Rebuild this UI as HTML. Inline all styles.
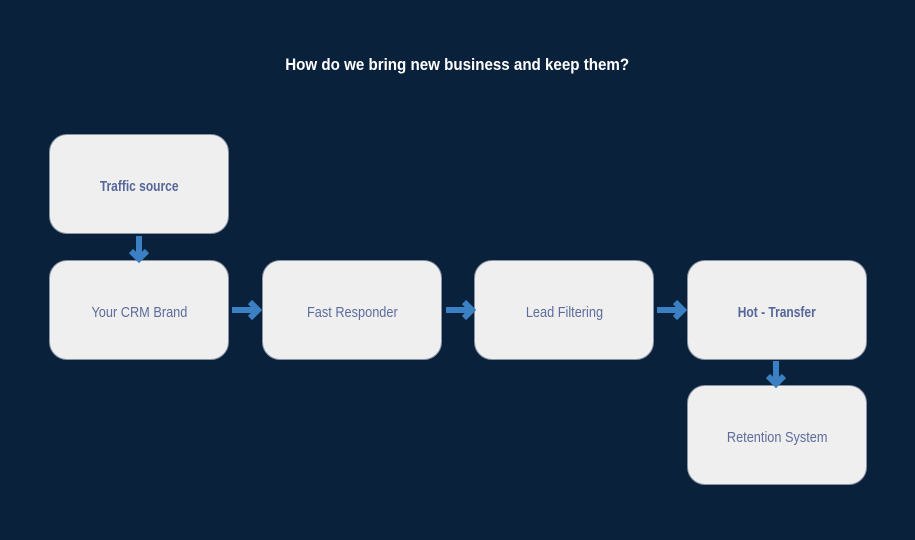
<!DOCTYPE html>
<html><head><meta charset="utf-8"><style>
body{margin:0;width:915px;height:540px;background:#0a213b;position:relative;overflow:hidden;font-family:"Liberation Sans Narrow","Liberation Sans",sans-serif}
.t{position:absolute;left:0;width:915px;top:55px;text-align:center;color:#fff;font-size:17px;font-weight:bold}
.t span{display:inline-block;transform:scaleX(.89)}
.b{position:absolute;width:180px;height:100px;background:#efefef;border:1px solid #8a93a3;border-radius:18px;box-sizing:border-box;display:flex;align-items:center;justify-content:center;color:#5d6c9c;font-size:15px;padding-top:4px}
.b span{display:inline-block;transform:scaleX(.85)}
.bold{font-weight:bold;color:#56669a}
.bold span{transform:scaleX(.8)}
svg{position:absolute;left:0;top:0}
</style></head><body>
<div class="t"><span>How do we bring new business and keep them?</span></div>
<div class="b bold" style="left:49px;top:134px"><span>Traffic source</span></div>
<div class="b" style="left:49px;top:260px"><span>Your CRM Brand</span></div>
<div class="b" style="left:262px;top:260px"><span>Fast Responder</span></div>
<div class="b" style="left:474px;top:260px"><span>Lead Filtering</span></div>
<div class="b bold" style="left:687px;top:260px"><span>Hot - Transfer</span></div>
<div class="b" style="left:687px;top:385px"><span>Retention System</span></div>
<svg width="915" height="540">
<g stroke="#3b80c2" stroke-width="6" fill="none">
<path d="M232 310H256M250 302L258 310L250 318"/>
<path d="M446 310H470M464 302L472 310L464 318"/>
<path d="M657 310H681M675 302L683 310L675 318"/>
<path d="M139 236V257M131 251L139 259L147 251"/>
<path d="M776 361V382M768 376L776 384L784 376"/>
</g></svg>
</body></html>
